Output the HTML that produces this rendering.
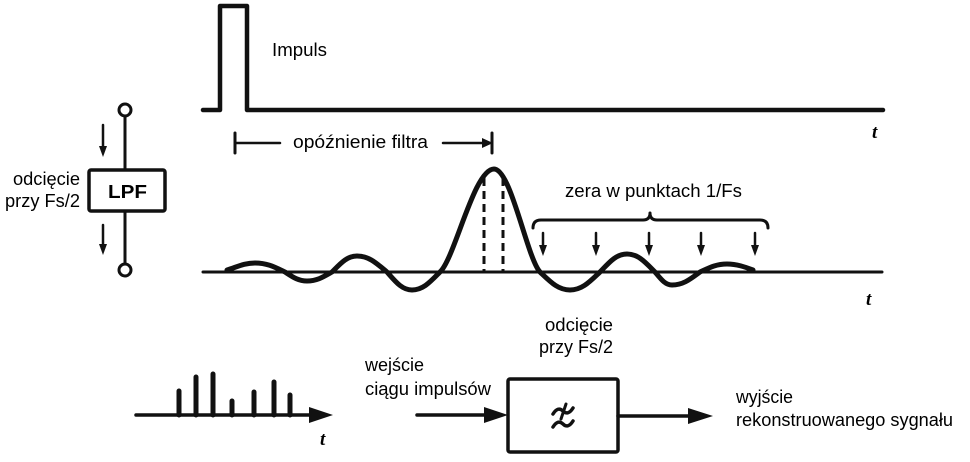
<!DOCTYPE html>
<html><head><meta charset="utf-8">
<style>
html,body{margin:0;padding:0;background:#fff;}
svg{display:block;}
text{font-family:"Liberation Sans",sans-serif;fill:#000;font-size:18px;}
.t{font-family:"Liberation Serif",serif;font-style:italic;font-weight:bold;font-size:19px;}
</style></head>
<body>
<svg width="970" height="462" viewBox="0 0 970 462" xmlns="http://www.w3.org/2000/svg">
<rect width="970" height="462" fill="#fff"/>
<g fill="none" stroke="#111" stroke-linecap="round" stroke-linejoin="round">
  <!-- top impulse -->
  <path d="M203 110 L220 110 L220 6 L247 6 L247 110 L883 110" stroke-width="4.5"/>
  <!-- filter delay marker -->
  <line x1="235" y1="133" x2="235" y2="153" stroke-width="3"/>
  <line x1="235" y1="143" x2="280" y2="143" stroke-width="2.5"/>
  <line x1="443" y1="143" x2="484" y2="143" stroke-width="2.5"/>
  <line x1="492" y1="133" x2="492" y2="153" stroke-width="3"/>
  <!-- sinc baseline -->
  <line x1="203" y1="272" x2="882" y2="272" stroke-width="3"/>
  <!-- dashed -->
  <line x1="484" y1="178" x2="484" y2="272" stroke-width="3" stroke-dasharray="8 5" stroke-linecap="butt"/>
  <line x1="503" y1="178" x2="503" y2="272" stroke-width="3" stroke-dasharray="8 5" stroke-linecap="butt"/>
  <!-- sinc curve -->
  <path stroke-width="5" d="M227 270
    C237 267 244 263 255 263
    C267 263 274.5 267 285 272
    C292.7 277 298.2 281 307 281
    C317 281 323.25 277 332 272
    C340.75 263.2 347 256 357 256
    C369 256 376.5 263.2 387 272
    C395.75 281.9 402 290 412 290
    C423.2 290 430.2 281.9 440 272
    C455 258 474 169 494 169
    C511 169 527 258 540 272
    C550.5 281.9 558 290 570 290
    C582 290 589.5 281.9 600 272
    C609.45 262.1 616.2 254 627 254
    C638.2 254 645.2 262.1 655 272
    C661 279.2 665.2 285 672 285
    C683.2 285 690.2 279.2 700 272
    C709.5 267.6 716.2 264 727 264
    C737 264 745 267 753 270"/>
  <!-- brace -->
  <path stroke-width="3" d="M533 228 Q533 220 541 220 L643 220 Q650 220 650 213 Q650 220 657 220 L760 220 Q768 220 768 228"/>
  <!-- zero arrows -->
  <g stroke-width="2.5">
    <line x1="543" y1="233" x2="543" y2="248"/>
    <line x1="596" y1="233" x2="596" y2="248"/>
    <line x1="649" y1="233" x2="649" y2="248"/>
    <line x1="701" y1="233" x2="701" y2="248"/>
    <line x1="755" y1="233" x2="755" y2="248"/>
  </g>
  <!-- LPF block -->
  <circle cx="125" cy="110" r="6" stroke-width="3"/>
  <circle cx="125" cy="270" r="6" stroke-width="3"/>
  <line x1="125" y1="116" x2="125" y2="170" stroke-width="3"/>
  <line x1="125" y1="211" x2="125" y2="264" stroke-width="3"/>
  <rect x="89" y="170" width="76" height="41" rx="2" stroke-width="3.5"/>
  <line x1="103" y1="125" x2="103" y2="148" stroke-width="2.5"/>
  <line x1="103" y1="225" x2="103" y2="246" stroke-width="2.5"/>
  <!-- bottom left impulses -->
  <line x1="136" y1="415" x2="312" y2="415" stroke-width="3.5"/>
  <g stroke-width="5">
    <line x1="179" y1="391" x2="179" y2="415"/>
    <line x1="196" y1="377" x2="196" y2="415"/>
    <line x1="213" y1="374" x2="213" y2="415"/>
    <line x1="232" y1="401" x2="232" y2="415"/>
    <line x1="254" y1="392" x2="254" y2="415"/>
    <line x1="274" y1="382" x2="274" y2="415"/>
    <line x1="290" y1="395" x2="290" y2="415"/>
  </g>
  <!-- bottom filter block -->
  <line x1="417" y1="415" x2="488" y2="415" stroke-width="3.5"/>
  <rect x="508" y="379" width="110" height="73" rx="2" stroke-width="3.5"/>
  <line x1="618" y1="416" x2="692" y2="416" stroke-width="3.5"/>
  <!-- lowpass symbol -->
  <path stroke-width="3.5" d="M553 414 Q558 406 563 411 Q568 416 573 408"/>
  <path stroke-width="3" d="M561 419 L566 404"/>
  <path stroke-width="3.5" d="M553 427 Q558 419 563 424 Q568 429 573 421"/>
</g>
<g fill="#111" stroke="none">
  <polygon points="482,138 493,143 482,148"/>
  <polygon points="539,245 547,245 543,256"/>
  <polygon points="592,245 600,245 596,256"/>
  <polygon points="645,245 653,245 649,256"/>
  <polygon points="697,245 705,245 701,256"/>
  <polygon points="751,245 759,245 755,256"/>
  <polygon points="99,146 107,146 103,157"/>
  <polygon points="99,244 107,244 103,255"/>
  <polygon points="309,407 333,415 309,423"/>
  <polygon points="484,407 508,415 484,423"/>
  <polygon points="688,408 713,416 688,424"/>
</g>
<!-- labels -->
<text x="272" y="56" textLength="55" lengthAdjust="spacingAndGlyphs">Impuls</text>
<text x="293" y="148" textLength="135" lengthAdjust="spacingAndGlyphs">opóźnienie filtra</text>
<text x="565" y="197" textLength="177" lengthAdjust="spacingAndGlyphs">zera w punktach 1/Fs</text>
<text x="13" y="185" textLength="67" lengthAdjust="spacingAndGlyphs">odcięcie</text>
<text x="5" y="207" textLength="75" lengthAdjust="spacingAndGlyphs">przy Fs/2</text>
<text x="108" y="198" font-weight="bold" textLength="39" lengthAdjust="spacingAndGlyphs">LPF</text>
<text x="545" y="331" textLength="68" lengthAdjust="spacingAndGlyphs">odcięcie</text>
<text x="539" y="353" textLength="74" lengthAdjust="spacingAndGlyphs">przy Fs/2</text>
<text x="365" y="371" textLength="59" lengthAdjust="spacingAndGlyphs">wejście</text>
<text x="365" y="395" textLength="126" lengthAdjust="spacingAndGlyphs">ciągu impulsów</text>
<text x="736" y="403" textLength="57" lengthAdjust="spacingAndGlyphs">wyjście</text>
<text x="736" y="426" textLength="217" lengthAdjust="spacingAndGlyphs">rekonstruowanego sygnału</text>
<text class="t" x="872" y="138">t</text>
<text class="t" x="866" y="305">t</text>
<text class="t" x="320" y="445">t</text>
</svg>
</body></html>
